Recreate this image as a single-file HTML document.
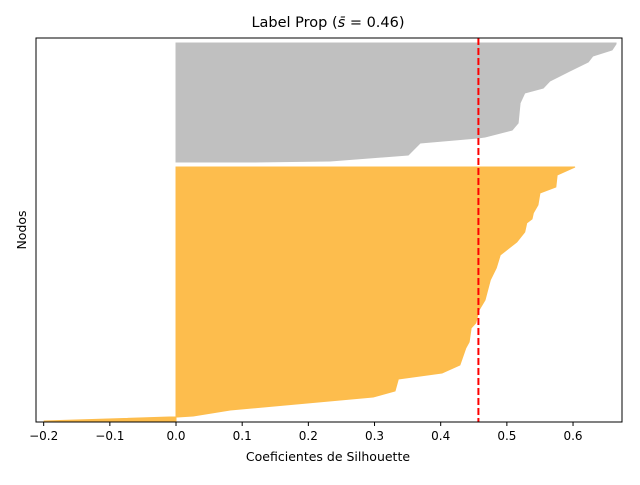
<!DOCTYPE html>
<html><head><meta charset="utf-8"><style>
body{margin:0;background:#fff;font-family:"Liberation Sans","DejaVu Sans",sans-serif}
</style></head><body>
<svg width="640" height="480" viewBox="0 0 640 480" id="chart" font-family="DejaVu Sans, Liberation Sans, sans-serif">
<rect width="640" height="480" fill="#fff"/>
<text x="328" y="27" text-anchor="middle" font-size="14.5">Label Prop (<tspan font-style="italic">s̄</tspan> = 0.46)</text>
<g id="plot"></g>
<g id="xticks"></g>
<rect x="36" y="38" width="586" height="384" fill="none" stroke="#000" stroke-width="1"/>
<text x="328" y="461" text-anchor="middle" font-size="12.5">Coeficientes de Silhouette</text>
<text transform="translate(26,230) rotate(-90)" text-anchor="middle" font-size="12.5">Nodos</text>
</svg>
<script>
const xTicks=[-0.2,-0.1,0.0,0.1,0.2,0.3,0.4,0.5,0.6];
const xTickLabels=["−0.2","−0.1","0.0","0.1","0.2","0.3","0.4","0.5","0.6"];
const meanScore=0.457;
const grayRows=[379,378,372,366,360,351,341,334,329,319,299,292,285,284,279,267,261,260];
const grayVals=[0.665,0.665,0.659,0.630,0.623,0.595,0.565,0.555,0.527,0.520,0.517,0.508,0.467,0.456,0.369,0.351,0.233,0.112];
const orangeRows=[255,247,235,229,217,209,203,199,190,180,167,154,142,122,112,99,94,80,74,57,49,43,31,25,12,6,5,5,1];
const orangeVals=[0.603,0.576,0.574,0.550,0.547,0.540,0.538,0.530,0.527,0.515,0.490,0.484,0.475,0.467,0.458,0.453,0.446,0.443,0.438,0.429,0.402,0.336,0.331,0.298,0.082,0.026,0.002,-0.01,-0.2];
const X0=36,X1=622,Y0=38,Y1=422,xmin=-0.2116,xmax=0.674,ymin=0,ymax=384;
const sx=v=>X0+(v-xmin)/(xmax-xmin)*(X1-X0);
const sy=v=>Y1-(v-ymin)/(ymax-ymin)*(Y1-Y0);
const NS="http://www.w3.org/2000/svg";
const plot=document.getElementById('plot');
function cluster(rows,vals,fill,name){
  let pts=[];
  pts.push(sx(0)+","+sy(rows[0]));
  for(let i=0;i<rows.length;i++)pts.push(sx(vals[i])+","+sy(rows[i]));
  pts.push(sx(0)+","+sy(rows[rows.length-1]));
  const p=document.createElementNS(NS,'polygon');
  p.setAttribute('points',pts.join(' '));
  p.setAttribute('fill',fill);p.setAttribute('stroke',fill);p.setAttribute('stroke-width','1');
  
  
  plot.appendChild(p);
}
cluster(grayRows,grayVals,'#c0c0c0','cluster-gray');
cluster(orangeRows,orangeVals,'#fdbd4d','cluster-orange');
const ml=document.createElementNS(NS,'line');
ml.setAttribute('x1',sx(meanScore));ml.setAttribute('x2',sx(meanScore));
ml.setAttribute('y1',Y0);ml.setAttribute('y2',Y1);
ml.setAttribute('stroke','#ff0000');ml.setAttribute('stroke-width','2');ml.setAttribute('stroke-dasharray','7,3');


plot.appendChild(ml);
const xt=document.getElementById('xticks');
xTicks.forEach((t,i)=>{
  const l=document.createElementNS(NS,'line');
  l.setAttribute('x1',sx(t));l.setAttribute('x2',sx(t));l.setAttribute('y1',Y1);l.setAttribute('y2',Y1+4);
  l.setAttribute('stroke','#000');
  
  
  xt.appendChild(l);
  const tx=document.createElementNS(NS,'text');
  tx.setAttribute('x',sx(t));tx.setAttribute('y',Y1+18);tx.setAttribute('text-anchor','middle');tx.setAttribute('font-size','12');
  tx.textContent=xTickLabels[i];
  
  
  xt.appendChild(tx);
});
</script>
</body></html>
